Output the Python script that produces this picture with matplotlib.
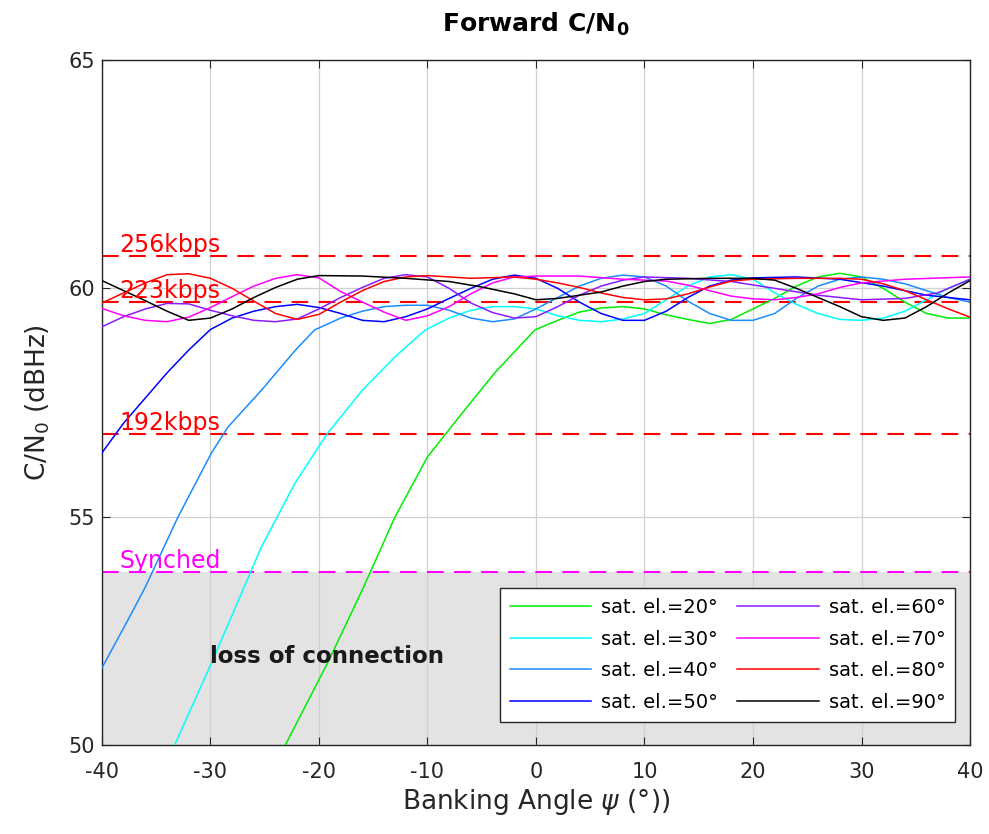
import matplotlib
matplotlib.use("Agg")
import matplotlib.pyplot as plt

plt.rcParams['font.family'] = ['DejaVu Sans']
plt.rcParams['axes.unicode_minus'] = False

# banking angle (deg) / C/N0 (dBHz), one pair of lists per elevation
x20 = [-23.1, -19.2, -16, -13, -10, -6.8, -3.8, -0.1, 2, 4, 6, 8, 10, 12, 14, 16, 18, 20, 22, 24, 26, 28, 30, 32, 34, 36, 38, 40]
y20 = [50, 51.8, 53.4, 54.99, 56.31, 57.27, 58.15, 59.09, 59.3, 59.48, 59.57, 59.6, 59.55, 59.42, 59.32, 59.23, 59.32, 59.55, 59.78, 60.05, 60.25, 60.33, 60.25, 60.0, 59.7, 59.45, 59.35, 59.35]

x30 = [-33.3, -29.9, -25.3, -22.2, -19.2, -16, -13, -10.2, -8, -6, -4, -2, 0, 2, 4, 6, 8, 10, 12, 14, 16, 18, 20, 22, 24, 26, 28, 30, 32, 34, 36, 38, 40]
y30 = [50, 51.8, 54.34, 55.74, 56.83, 57.77, 58.5, 59.09, 59.35, 59.52, 59.6, 59.6, 59.55, 59.4, 59.3, 59.27, 59.33, 59.45, 59.75, 60.05, 60.25, 60.3, 60.2, 59.9, 59.65, 59.45, 59.32, 59.3, 59.35, 59.5, 59.75, 60.0, 60.2]

x40 = [-40, -37.6, -36, -33, -29.9, -28.4, -25.3, -22.2, -20.4, -18, -16, -14, -12, -10, -8, -6, -4, -2, 0, 2, 4, 6, 8, 10, 12, 14, 16, 18, 20, 22, 24, 26, 28, 30, 32, 34, 36, 38, 40]
y40 = [51.69, 52.74, 53.46, 54.99, 56.4, 56.96, 57.77, 58.64, 59.09, 59.35, 59.5, 59.6, 59.63, 59.63, 59.52, 59.35, 59.27, 59.33, 59.55, 59.8, 60.05, 60.22, 60.29, 60.25, 60.05, 59.72, 59.45, 59.3, 59.3, 59.45, 59.78, 60.05, 60.2, 60.25, 60.2, 60.1, 59.95, 59.8, 59.7]

x50 = [-40, -38, -36, -34, -32, -30, -28, -26, -24, -22, -20, -18, -16, -14, -12, -10, -8, -6, -4, -2, 0, 2, 4, 6, 8, 10, 12, 14, 16, 18, 20, 24, 28, 32, 36, 40]
y50 = [56.4, 57.05, 57.6, 58.15, 58.65, 59.1, 59.35, 59.5, 59.6, 59.65, 59.58, 59.45, 59.3, 59.27, 59.38, 59.55, 59.78, 60.0, 60.2, 60.29, 60.22, 60.0, 59.7, 59.45, 59.3, 59.3, 59.5, 59.8, 60.05, 60.18, 60.23, 60.25, 60.2, 60.05, 59.85, 59.75]

x60 = [-40, -38, -36, -34, -32, -30, -28, -26, -24, -22, -20, -18, -16, -14, -12, -10, -8, -6, -4, -2, 0, 2, 4, 6, 8, 10, 14, 18, 22, 26, 30, 34, 37, 40]
y60 = [59.16, 59.38, 59.55, 59.67, 59.66, 59.52, 59.4, 59.3, 59.27, 59.33, 59.55, 59.8, 60.02, 60.22, 60.3, 60.25, 60.0, 59.68, 59.47, 59.35, 59.38, 59.6, 59.85, 60.05, 60.18, 60.25, 60.22, 60.15, 60.0, 59.85, 59.75, 59.78, 59.9, 60.2]

x70 = [-40, -38, -36, -34, -32, -30, -28, -26, -24, -22, -20, -18, -16, -14, -12, -10, -8, -6, -4, -2, 0, 4, 8, 12, 14, 16, 18, 20, 22, 24, 26, 28, 30, 34, 40]
y70 = [59.56, 59.4, 59.3, 59.27, 59.37, 59.58, 59.82, 60.05, 60.22, 60.3, 60.23, 59.93, 59.7, 59.48, 59.3, 59.4, 59.6, 59.88, 60.12, 60.25, 60.27, 60.27, 60.2, 60.16, 60.07, 59.95, 59.83, 59.77, 59.75, 59.8, 59.88, 60.02, 60.12, 60.2, 60.25]

x80 = [-40, -38, -36, -34, -32, -30, -28, -26, -24, -22, -20, -18, -16, -14, -12, -10, -6, -2, 0, 2, 4, 6, 8, 10, 12, 14, 16, 18, 20, 24, 28, 30, 32, 34, 36, 38, 40]
y80 = [59.68, 59.9, 60.12, 60.3, 60.32, 60.22, 60.0, 59.72, 59.45, 59.32, 59.43, 59.7, 59.95, 60.15, 60.25, 60.28, 60.22, 60.25, 60.2, 60.12, 60.02, 59.9, 59.8, 59.75, 59.77, 59.88, 60.03, 60.16, 60.2, 60.22, 60.22, 60.2, 60.1, 59.95, 59.75, 59.55, 59.37]

x90 = [-40, -38, -36, -34, -32, -30, -28, -26, -24, -22, -20, -16, -12, -8, -5, -2, 0, 2, 4, 6, 8, 10, 12, 16, 20, 22, 24, 26, 28, 30, 32, 34, 36, 38, 40]
y90 = [60.17, 59.95, 59.73, 59.5, 59.3, 59.35, 59.55, 59.8, 60.02, 60.2, 60.28, 60.27, 60.22, 60.15, 60.03, 59.88, 59.75, 59.78, 59.85, 59.92, 60.05, 60.15, 60.2, 60.22, 60.22, 60.18, 60.0, 59.8, 59.6, 59.38, 59.3, 59.35, 59.6, 59.9, 60.17]

elevations = [20, 30, 40, 50, 60, 70, 80, 90]
xs = [x20, x30, x40, x50, x60, x70, x80, x90]
ys = [y20, y30, y40, y50, y60, y70, y80, y90]
colors = ['#00ee00', '#00ffff', '#1a8cff', '#0000ff', '#8c1aff', '#ff00ff', '#ff0000', '#000000']

# thresholds (dBHz)
rate_names = ['256kbps', '223kbps', '192kbps']
rate_levels = [60.71, 59.71, 56.80]
sync_level = 53.78

fig = plt.figure(figsize=(9.89, 8.34), dpi=100)
ax = fig.add_axes([0.1031, 0.1067, 0.8777, 0.8213])

ax.fill_between([-40, 40], 50, sync_level, color='#e3e3e3', lw=0, zorder=1)

for el, x, y, c in zip(elevations, xs, ys, colors):
    ax.plot(x, y, color=c, lw=1.1, label=f'sat. el.={el}°', zorder=3)

for name, lvl in zip(rate_names, rate_levels):
    ax.axhline(lvl, color='red', lw=1.5, ls=(0, (8, 5)), zorder=2.5)
    ax.text(-38.4, lvl - 0.02, name, color='red', fontsize=17, va='bottom', ha='left')
ax.axhline(sync_level, color='#ff00ff', lw=1.5, ls=(0, (8, 5)), zorder=2.5)
ax.text(-38.4, sync_level - 0.02, 'Synched', color='#ff00ff', fontsize=17, va='bottom', ha='left')

ax.text(-19.3, 51.93, 'loss of connection', fontsize=16.5, fontweight='bold', ha='center', va='center', color='#1a1a1a')

ax.set_xlim(-40, 40)
ax.set_ylim(50, 65)
ax.set_xticks(range(-40, 41, 10))
ax.set_yticks([50, 55, 60, 65])
ax.grid(True, color='#d0d0d0', lw=0.9)
ax.tick_params(direction='in', length=6, top=True, right=True, labelsize=15, colors='#262626')
ax.tick_params(axis='x', pad=12)
ax.tick_params(axis='y', pad=5)
for s in ax.spines.values():
    s.set_color('#262626')
    s.set_linewidth(1.0)

ax.set_xlabel(r'Banking Angle $\psi$ (°))', fontsize=19, color='#262626', labelpad=4)
ax.set_ylabel(r'C/N$_0$ (dBHz)', fontsize=19, color='#262626', labelpad=12)
ax.set_title(r'Forward C/N$_\mathbf{0}$', fontsize=18, fontweight='bold', pad=20)

leg = ax.legend(ncol=2, loc='upper left', bbox_to_anchor=(0.4585, 0.229), fontsize=14,
                handlelength=4.2, columnspacing=1.0, labelspacing=0.65, handletextpad=0.5,
                fancybox=False, framealpha=1, edgecolor='#262626', borderpad=0.5,
                borderaxespad=0)
leg.get_frame().set_linewidth(1.0)

fig.savefig('out.png', dpi=100)
